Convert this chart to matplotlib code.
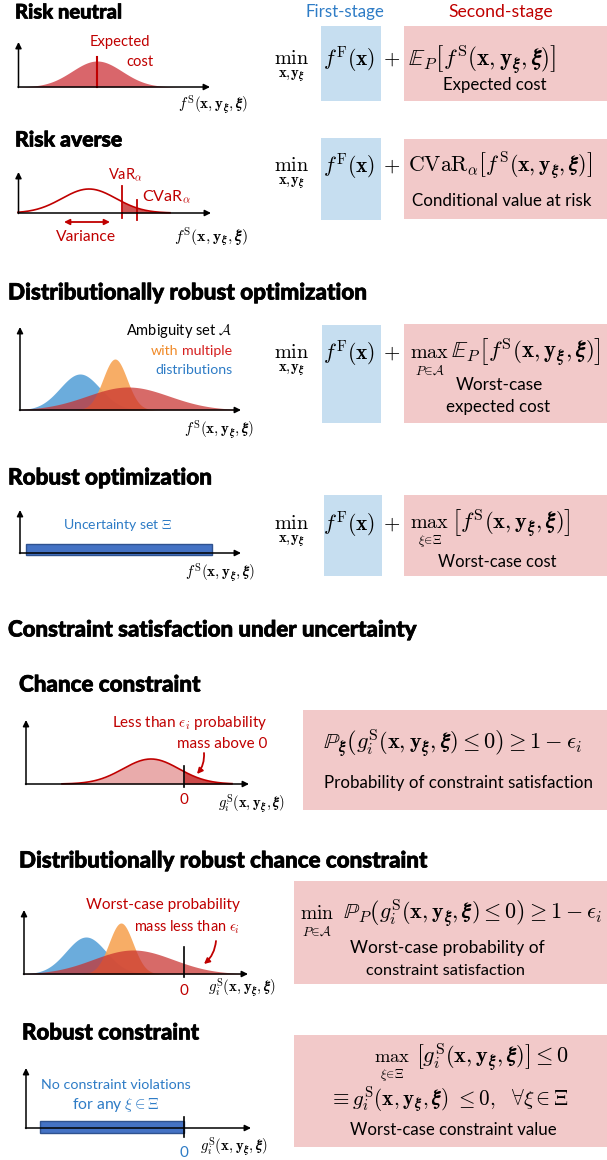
import numpy as np
import matplotlib.pyplot as plt
import matplotlib.patheffects as pe
from matplotlib.patches import Rectangle

plt.rcParams['mathtext.fontset'] = 'cm'
plt.rcParams['font.family'] = ['Lato', 'DejaVu Sans']

# colours
RED = '#c00000'
BLUE = '#2e7cc6'
PINK = '#f2c9c9'
LBLUE = '#c6def0'
DBLUE = '#4472c4'

# section headings
headings = ['Risk neutral', 'Risk averse', 'Distributionally robust optimization',
            'Robust optimization', 'Constraint satisfaction under uncertainty',
            'Chance constraint', 'Distributionally robust chance constraint',
            'Robust constraint']
head_x = [15, 15, 8, 8, 8, 19, 19, 22]
head_y = [12, 140, 293, 478, 630, 685, 861, 1033]
head_w = [108, 108, 360, 205, 409, 182, 409, 178]

# schematic distributions: mean, sigma, height (panel units)
neutral_dist = [97, 25, 26]
averse_dist = [89, 27, 24]
var_level, cvar_level = 122, 137
dro_means = [80, 115, 128]
dro_sigmas = [20, 12, 41]
dro_heights = [36, 51, 23]
dro_colors = ['#5ba3d9', '#f7a455', '#c8302e']
dro_alphas = [0.9, 0.9, 0.72]
chance_dist = [151, 28, 25]
drcc_means = [86, 121, 133]
drcc_sigmas = [20, 12, 40]
drcc_heights = [37, 51, 24]
zero_level = 184

XS = r'(\mathbf{x},\mathbf{y}_{\boldsymbol{\xi}},\boldsymbol{\xi})'
FS = r'$f^{\mathrm{S}}' + XS + '$'
GS = r'$g_i^{\mathrm{S}}' + XS + '$'

fig = plt.figure(figsize=(6.07, 11.60), dpi=100)
ax = fig.add_axes([0, 0, 1, 1])
ax.set_xlim(0, 607)
ax.set_ylim(1160, 0)
ax.axis('off')
renderer = fig.canvas.get_renderer()


def txt(x, y, s, w=None, size=11, color='k', ha='center', **kw):
    # draw text; if w is given, scale the font so the text is w pixels wide
    t = ax.text(x, y, s, fontsize=size, color=color, ha=ha, va='center', **kw)
    if w is not None:
        width = t.get_window_extent(renderer).width
        t.set_fontsize(size * w / width)
    return t


def box(x0, y0, x1, y1, color):
    ax.add_patch(Rectangle((x0, y0), x1 - x0, y1 - y0, color=color, lw=0, zorder=0))


def axes_arrows(x0, y0, xend, ytop):
    ap = dict(arrowstyle='-|>', color='k', lw=1.1, mutation_scale=9, shrinkA=0, shrinkB=0)
    ax.annotate('', xy=(xend, y0), xytext=(x0 - 0.5, y0), arrowprops=ap)
    ax.annotate('', xy=(x0, ytop), xytext=(x0, y0 + 0.5), arrowprops=ap)


def gauss(x, m, s, h):
    return h * np.exp(-(x - m) ** 2 / (2 * s ** 2))


def red_arrow(x0, y0, x1, y1):
    ax.annotate('', xy=(x1, y1), xytext=(x0, y0),
                arrowprops=dict(arrowstyle='-|>', color=RED, lw=1.3, mutation_scale=8,
                                connectionstyle='arc3,rad=-0.2', shrinkA=0, shrinkB=0))


for h, x, y, w in zip(headings, head_x, head_y, head_w):
    t = txt(x, y, h, w=w - 1, size=16, ha='left', weight='black')
    t.set_path_effects([pe.withStroke(linewidth=0.5, foreground='k')])

txt(345, 12, 'First-stage', w=79, color=BLUE)
txt(501, 12, 'Second-stage', w=105, color=RED)

# ---------------- Risk neutral ----------------
base = 87
xx = np.linspace(19, 180, 300)
yy = gauss(xx, *neutral_dist)
ax.fill_between(xx, base, base - yy, color='#d9666b', lw=0)
ax.plot([neutral_dist[0]] * 2, [57, base], color=RED, lw=1.5)
axes_arrows(18.5, base, 210, 42)
t_exp = txt(120, 42, 'Expected', w=60, color=RED)
txt(140, 62, 'cost', size=t_exp.get_fontsize(), color=RED)
txt(213, 105, FS, w=70)

box(321, 26, 381, 101, LBLUE)
box(404, 26, 607, 101, PINK)

# ---------------- Risk averse ----------------
base = 213
xx = np.linspace(18, 170, 300)
yy = gauss(xx, *averse_dist)
ax.plot(xx, base - yy, color=RED, lw=1.2)
tail = xx >= var_level
ax.fill_between(xx[tail], base, base - yy[tail], color='#cf5656', lw=0)
ax.plot([var_level] * 2, [186, 218], color=RED, lw=1.3)
ax.plot([cvar_level] * 2, [200, 220], color=RED, lw=1.3)
axes_arrows(18.5, base, 211, 172)
txt(126, 175, r'VaR$_\alpha$', w=35, color=RED)
txt(166, 197, r'CVaR$_\alpha$', w=49, color=RED)
ax.annotate('', xy=(110, 222), xytext=(64, 222),
            arrowprops=dict(arrowstyle='<|-|>', color=RED, lw=1.3, mutation_scale=8,
                            shrinkA=0, shrinkB=0))
txt(86, 237, 'Variance', w=60, color=RED)
txt(211, 237, FS, w=74)

box(321, 138, 381, 220, LBLUE)
box(404, 139, 607, 219, PINK)

# min / first-stage / plus for the four optimisation rows
for y in [58, 165, 352, 523]:
    txt(292, y, r'$\mathrm{min}$', w=35, size=16)
    txt(292, y + 18, r'$\mathbf{x},\!\mathbf{y}_{\boldsymbol{\xi}}$', w=27)
    txt(349, y + 1, r'$f^{\mathrm{F}}(\mathbf{x})$', w=52, size=16)
    txt(392, y + 1, r'$+$', size=15)

txt(408, 59, r'$\mathbb{E}_P\left[f^{\mathrm{S}}' + XS + r'\right]$', w=148, size=16, ha='left')
txt(495, 85, 'Expected cost', w=103)
txt(408, 166, r'$\mathrm{CVaR}_\alpha\left[f^{\mathrm{S}}' + XS + r'\right]$', w=184, size=16,
    ha='left')
txt(502, 201, 'Conditional value at risk', w=180)

# ---------------- DRO ----------------
base = 410
xx = np.linspace(20, 238, 400)
for m, s, h, c, a in zip(dro_means, dro_sigmas, dro_heights, dro_colors, dro_alphas):
    ax.fill_between(xx, base, base - gauss(xx, m, s, h), color=c, alpha=a, lw=0)
axes_arrows(20, base, 241, 327)
txt(232, 331, r'Ambiguity set $\mathcal{A}$', w=106, ha='right')
t_dist = txt(233, 370, 'distributions', w=77, color=BLUE, ha='right')
fs = t_dist.get_fontsize()
t_mult = txt(232, 351, 'multiple', size=fs, color='#d62020', ha='right')
x_left = ax.transData.inverted().transform(
    (t_mult.get_window_extent(renderer).x0, 0))[0]
txt(x_left - 3.5, 351, 'with', size=fs, color='#f08a28', ha='right')
txt(219, 430, FS, w=70)

box(322, 325, 381, 423, LBLUE)
box(404, 324, 607, 423, PINK)
txt(430, 352, r'$\mathrm{max}$', w=39, size=16)
txt(430, 370, r'$P\!\in\!\mathcal{A}$', w=30)
txt(451, 353, r'$\mathbb{E}_P\left[f^{\mathrm{S}}' + XS + r'\right]$', w=147, size=16, ha='left')
txt(499, 385, 'Worst-case', w=87)
txt(498, 407, 'expected cost', w=103)

# ---------------- Robust optimization ----------------
base = 553
axes_arrows(20, base, 241, 510)
ax.add_patch(Rectangle((26, 544), 186, 11, facecolor=DBLUE, edgecolor='#2f528f', lw=1))
txt(118, 525, r'Uncertainty set $\Xi$', w=109, color=BLUE)
txt(220, 573, FS, w=70)

box(324, 495, 382, 576, LBLUE)
box(404, 495, 607, 576, PINK)
txt(430, 523, r'$\mathrm{max}$', w=39, size=16)
txt(430, 541, r'$\xi\!\in\!\Xi$', w=24)
txt(451, 524, r'$\left[f^{\mathrm{S}}' + XS + r'\right]$', w=117, size=16, ha='left')
txt(497, 562, 'Worst-case cost', w=118)

# ---------------- Chance constraint ----------------
base = 784
xx = np.linspace(62, 232, 300)
yy = gauss(xx, *chance_dist)
ax.fill_between(xx, base, base - yy, color='#e9abab', lw=0)
tail = xx >= zero_level
ax.fill_between(xx[tail], base, base - yy[tail], color='#cc4a4a', lw=0)
ax.plot(xx, base - yy, color=RED, lw=1.2)
ax.plot([zero_level] * 2, [766, 787], color='k', lw=1.2)
axes_arrows(26, base, 249, 720)
txt(184, 800, '0', color=RED)
txt(267, 723, r'Less than $\epsilon_i$ probability', w=155, color=RED, ha='right')
txt(267, 744, 'mass above 0', w=90, color=RED, ha='right')
red_arrow(204, 753, 197, 774)
txt(252, 804, GS, w=67)

box(303, 710, 607, 810, PINK)
txt(452, 744, r'$\mathbb{P}_{\boldsymbol{\xi}}\left(g_i^{\mathrm{S}}' + XS
    + r'\leq 0\right)\geq 1-\epsilon_i$', w=259, size=16)
txt(458, 783, 'Probability of constraint satisfaction', w=266)

# ---------------- DR chance constraint ----------------
base = 974
xx = np.linspace(24, 245, 400)
for m, s, h, c, a in zip(drcc_means, drcc_sigmas, drcc_heights, dro_colors, dro_alphas):
    ax.fill_between(xx, base, base - gauss(xx, m, s, h), color=c, alpha=a, lw=0)
ax.plot([zero_level] * 2, [947, 977], color='k', lw=1.2)
axes_arrows(24, base, 248, 910)
txt(184, 991, '0', color=RED)
txt(240, 905, 'Worst-case probability', w=154, color=RED, ha='right')
txt(240, 927, r'mass less than $\epsilon_i$', w=106, color=RED, ha='right')
red_arrow(216, 941, 204, 964)
txt(242, 988, GS, w=68)

box(294, 881, 607, 984, PINK)
txt(317, 913, r'$\mathrm{min}$', w=34, size=16)
txt(317, 931, r'$P\!\in\!\mathcal{A}$', w=30)
txt(343, 914, r'$\mathbb{P}_P\left(g_i^{\mathrm{S}}' + XS
    + r'\leq 0\right)\geq 1-\epsilon_i$', w=259, size=16, ha='left')
txt(447, 948, 'Worst-case probability of', w=194)
txt(446, 971, 'constraint satisfaction', w=158)

# ---------------- Robust constraint ----------------
base = 1128
axes_arrows(26, base, 251, 1068)
ax.add_patch(Rectangle((40, 1121), 144, 12, facecolor=DBLUE, edgecolor='#2f528f', lw=1))
ax.plot([zero_level] * 2, [1117, 1137], color='k', lw=1.2)
txt(184, 1153, '0', color=BLUE)
txt(116, 1085, 'No constraint violations', w=149, color=BLUE)
txt(116, 1105, r'for any $\xi\in\Xi$', w=88, color=BLUE)
txt(234, 1147, GS, w=68)

box(294, 1035, 607, 1147, PINK)
txt(392, 1057, r'$\mathrm{max}$', w=36, size=16)
txt(392, 1075, r'$\xi\!\in\!\Xi$', w=24)
txt(416, 1058, r'$\left[g_i^{\mathrm{S}}' + XS + r'\right]\leq 0$', w=153, size=16, ha='left')
txt(449, 1100, r'$\equiv g_i^{\mathrm{S}}' + XS + r'\ \leq 0,\ \ \forall\xi\in\Xi$', w=240,
    size=16)
txt(453, 1130, 'Worst-case constraint value', w=206)

plt.savefig('out.png', dpi=100)
